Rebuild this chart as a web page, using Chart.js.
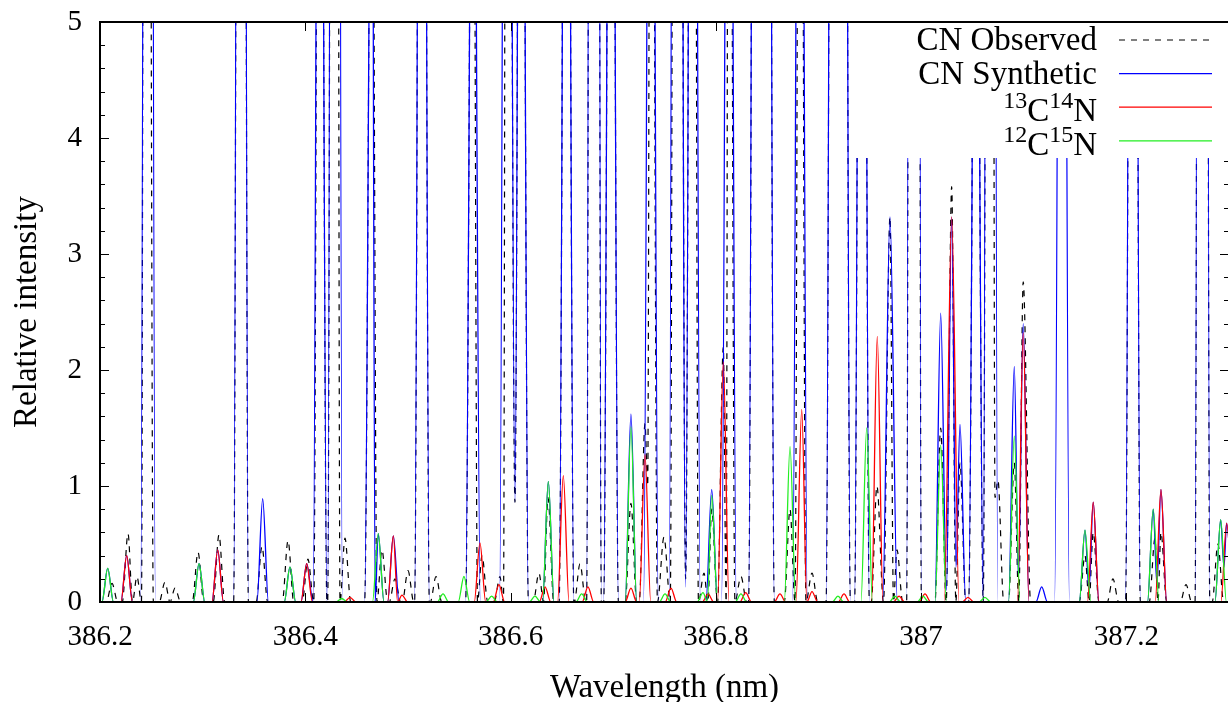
<!DOCTYPE html>
<html>
<head>
<meta charset="utf-8">
<script src="https://cdn.jsdelivr.net/npm/chart.js@4.4.0/dist/chart.umd.min.js"></script>
<style>
  html, body { margin: 0; padding: 0; background: #fff; overflow: hidden; }
  #wrap { width: 1230px; height: 702px; }
</style>
</head>
<body>
<div id="wrap"><canvas id="spectrum" width="1230" height="702"></canvas></div>
<script>
// axis ranges and tick values
const xRange = [386.2, 387.3];
const yRange = [0, 5];
const xTicks = [386.2, 386.4, 386.6, 386.8, 387.0, 387.2];
const yTicks = [0, 1, 2, 3, 4, 5];

// CN observed: line centres (nm) and peak intensities, plus blend minima
const obsX = [386.2117, 386.2273, 386.2360, 386.2448, 386.2633, 386.2731, 386.2955, 386.3159,
  386.3374, 386.3578, 386.3832, 386.4026, 386.4139, 386.4290, 386.4387, 386.4650, 386.4747,
  386.4874, 386.5001, 386.5137, 386.5274, 386.5634, 386.5722, 386.5897, 386.5965, 386.6102,
  386.6277, 386.6365, 386.6545, 386.6677, 386.6813, 386.6979, 386.7173, 386.7310, 386.7368,
  386.7495, 386.7617, 386.7777, 386.7885, 386.7960, 386.8073, 386.8128, 386.8245, 386.8391,
  386.8498, 386.8723, 386.8820, 386.8937, 386.9146, 386.9239, 386.9424, 386.9570, 386.9697,
  386.9765, 386.9931, 387.0191, 387.0298, 387.0379, 387.0535, 387.0676, 387.0749, 387.0908,
  387.0995, 387.1597, 387.1677, 387.1869, 387.2064, 387.2279, 387.2337, 387.2581, 387.2741,
  387.2892];
const obsY = [0.16, 0.59, 0.22, 25, 0.17, 0.12, 0.43, 0.58,
  25, 0.48, 0.53, 0.37, 12, 30, 0.55, 8, 0.45,
  0.20, 0.27, 16, 0.22, 9, 0.40, 0.22, 16, 12,
  0.25, 0.90, 12, 0.33, 40, 12, 0.85, 1.54, 12,
  0.56, 25, 16, 0.25, 0.80, 2.2, 12, 0.22, 16,
  16, 0.80, 12, 0.25, 16, 16, 14, 1.0, 3.32,
  0.45, 50, 1.5, 3.58, 1.2, 8, 27, 1.05, 1.2,
  2.76, 0.40, 0.60, 0.20, 17, 0.55, 0.60, 0.15, 39,
  0.50];
const obsDipX = [386.6043, 386.7336, 386.7706, 386.8445, 386.9190, 387.0720];
const obsDipY = [0.86, 1.0, 0.20, 8, 6, 0.9];

// CN synthetic
const synX = [386.2075, 386.2260, 386.2468, 386.2965, 386.3147, 386.3374, 386.3585, 386.3851,
  386.4014, 386.4139, 386.4290, 386.4650, 386.4711, 386.4858, 386.5137, 386.5634, 386.5965,
  386.6102, 386.6368, 386.6545, 386.6813, 386.6979, 386.7173, 386.7368, 386.7617, 386.7777,
  386.7960, 386.8128, 386.8391, 386.8498, 386.8820, 386.9146, 386.9239, 386.9424, 386.9697,
  386.9931, 387.0191, 387.0298, 387.0379, 387.0535, 387.0676, 387.0908, 387.0995, 387.1175,
  387.1373, 387.1597, 387.1677, 387.2064, 387.2262, 387.2337, 387.2741, 387.2919, 387.2977];
const synY = [0.29, 0.40, 25, 0.33, 0.45, 25, 0.89, 0.30,
  0.33, 12, 30, 8, 0.59, 0.57, 16, 9, 16,
  12, 1.04, 12, 40, 12, 1.62, 12, 25, 16,
  0.97, 12, 16, 16, 12, 16, 16, 14, 3.32,
  50, 2.49, 3.32, 1.53, 8, 27, 2.03, 2.40, 0.13,
  14, 0.62, 0.86, 17, 0.80, 0.97, 39, 0.71, 0.68];
const synDipX = [386.6043, 386.7706, 386.8445, 386.9190, 387.0247, 387.0340, 387.0949,
  387.1636, 387.2298, 387.2951];
const synDipY = [0.86, 0.13, 8, 6, 0.10, 0.30, 0.20, 0.10, 0.15, 0.30];

// 13C14N
const c13X = [386.2260, 386.3147, 386.4014, 386.4436, 386.4858, 386.4942, 386.5702, 386.5887,
  386.6336, 386.6514, 386.6754, 386.7173, 386.7310, 386.7563, 386.7924, 386.8073, 386.8291,
  386.8625, 386.8837, 386.8937, 386.9249, 386.9573, 386.9785, 387.0038, 387.0298, 387.0457,
  387.0995, 387.1677, 387.2337, 387.2977];
const c13Y = [0.40, 0.45, 0.33, 0.04, 0.57, 0.06, 0.51, 0.15,
  0.13, 1.09, 0.13, 0.12, 1.27, 0.12, 0.07, 2.07, 0.08,
  0.07, 1.66, 0.09, 0.07, 2.29, 0.05, 0.07, 3.32, 0.04,
  2.32, 0.86, 0.97, 0.68];

// 12C15N
const n15X = [386.2075, 386.2965, 386.3851, 386.4355, 386.4711, 386.5342, 386.5546, 386.5816,
  386.6238, 386.6368, 386.6693, 386.7173, 386.7505, 386.7875, 386.7960, 386.8245, 386.8723,
  386.9190, 386.9470, 386.9745, 387.0018, 387.0191, 387.0622, 387.0908, 387.1597, 387.2262,
  387.2919];
const n15Y = [0.29, 0.33, 0.30, 0.03, 0.59, 0.07, 0.22, 0.05,
  0.05, 1.04, 0.07, 1.51, 0.07, 0.08, 0.92, 0.07, 1.34,
  0.05, 1.50, 0.05, 0.05, 1.35, 0.04, 1.43, 0.62, 0.80,
  0.71];

// foot half-width of a line (nm): strong lines have wider wings
function halfWidth(v) { return v >= 2.5 ? 0.0072 : 0.0056; }

// turn a line list into profile points: peaks, listed minima, zero baseline between lines
function buildProfile(px, py, dx = [], dy = []) {
  const items = px.map((x, i) => ({ x, y: py[i], peak: true }))
    .concat(dx.map((x, i) => ({ x, y: dy[i], peak: false })))
    .sort((a, b) => a.x - b.x);
  const pts = [{ x: xRange[0], y: 0 }];
  const push = (x, y) => { if (x > pts[pts.length - 1].x + 1e-7) pts.push({ x, y }); };
  let prev = { x: xRange[0], y: 0, peak: true, w: 0 };
  items.forEach(it => {
    const w = it.peak ? halfWidth(it.y) : 0;
    if (prev.peak && it.peak) {
      if (it.x - prev.x >= prev.w + w) {
        if (prev.w) push(prev.x + prev.w, 0);
        push(it.x - w, 0);
      } else {
        push((prev.x + it.x) / 2, 0);
      }
    }
    push(it.x, it.y);
    prev = { x: it.x, y: it.y, peak: it.peak, w };
  });
  if (prev.w) push(prev.x + prev.w, 0);
  push(xRange[1], 0);
  return pts;
}

const serif = "'Liberation Serif', 'Times New Roman', serif";

// tics on all four sides pointing inward, opaque key box, frame
const framePlugin = {
  id: 'frame',
  afterDatasetsDraw(chart) {
    const { ctx, chartArea: a, scales: { x, y } } = chart;
    ctx.save();
    ctx.strokeStyle = '#000';
    ctx.lineWidth = 1;
    ctx.beginPath();
    for (let i = 0; i < yTicks.length; i++) {
      const py = Math.round(y.getPixelForValue(yTicks[i])) + 0.5;
      ctx.moveTo(a.left, py); ctx.lineTo(a.left + 9, py);
      ctx.moveTo(a.right, py); ctx.lineTo(a.right - 9, py);
      if (i < yTicks.length - 1) {
        for (let k = 1; k < 5; k++) {
          const v = yTicks[i] + (yTicks[i + 1] - yTicks[i]) * k / 5;
          const pm = Math.round(y.getPixelForValue(v)) + 0.5;
          ctx.moveTo(a.left, pm); ctx.lineTo(a.left + 5, pm);
          ctx.moveTo(a.right, pm); ctx.lineTo(a.right - 5, pm);
        }
      }
    }
    xTicks.forEach(v => {
      const pxv = Math.round(x.getPixelForValue(v)) + 0.5;
      ctx.moveTo(pxv, a.bottom); ctx.lineTo(pxv, a.bottom - 9);
      ctx.moveTo(pxv, a.top); ctx.lineTo(pxv, a.top + 9);
    });
    ctx.stroke();

    // key
    ctx.fillStyle = '#fff';
    ctx.fillRect(851, a.top, a.right - 851, 136);
    chart.data.datasets.forEach((d, i) => {
      const ly = a.top + 18 + i * 33.6;
      ctx.save();
      ctx.strokeStyle = d.borderColor;
      ctx.lineWidth = d.borderWidth;
      ctx.setLineDash(d.borderDash || []);
      ctx.beginPath();
      ctx.moveTo(1119, ly); ctx.lineTo(1212, ly);
      ctx.stroke();
      ctx.restore();
      drawRich(ctx, d.label, 1097, ly + (d.label.includes('^') ? 14 : 10));
    });

    ctx.lineWidth = 2;
    ctx.strokeRect(a.left, a.top, a.right - a.left, a.bottom - a.top);
    ctx.restore();
  }
};

// right-aligned text with ^{..} superscripts
function drawRich(ctx, text, right, base) {
  const parts = [];
  const re = /\^\{([^}]*)\}|([^^]+)/g;
  let m;
  while ((m = re.exec(text))) parts.push(m[1] !== undefined ? { t: m[1], sup: true } : { t: m[2], sup: false });
  const big = '33px ' + serif, small = '24px ' + serif;
  let total = 0;
  parts.forEach(p => { ctx.font = p.sup ? small : big; p.w = ctx.measureText(p.t).width; total += p.w; });
  let cx = right - total;
  ctx.fillStyle = '#000';
  ctx.textAlign = 'left';
  ctx.textBaseline = 'alphabetic';
  parts.forEach(p => {
    ctx.font = p.sup ? small : big;
    ctx.fillText(p.t, cx, p.sup ? base - 13 : base);
    cx += p.w;
  });
}

const lineStyle = { pointRadius: 0, fill: false, cubicInterpolationMode: 'monotone', borderJoinStyle: 'round' };

new Chart(document.getElementById('spectrum'), {
  type: 'line',
  data: {
    datasets: [
      { ...lineStyle, label: 'CN Observed', data: buildProfile(obsX, obsY, obsDipX, obsDipY),
        borderColor: '#000000', borderWidth: 1.2, borderDash: [6, 6], order: 4 },
      { ...lineStyle, label: 'CN Synthetic', data: buildProfile(synX, synY, synDipX, synDipY),
        borderColor: '#0000ff', borderWidth: 1.3, order: 3 },
      { ...lineStyle, label: '^{13}C^{14}N', data: buildProfile(c13X, c13Y),
        borderColor: '#ff0000', borderWidth: 1.3, order: 2 },
      { ...lineStyle, label: '^{12}C^{15}N', data: buildProfile(n15X, n15Y),
        borderColor: '#22ee22', borderWidth: 1.3, order: 1 }
    ]
  },
  options: {
    responsive: false,
    animation: false,
    devicePixelRatio: 1,
    layout: { padding: { top: 22, right: 1, left: 0, bottom: 0 } },
    plugins: { legend: { display: false }, tooltip: { enabled: false } },
    scales: {
      x: {
        type: 'linear', min: xRange[0], max: xRange[1],
        afterFit: s => { s.height = 100; s.paddingLeft = 0; s.paddingRight = 0; },
        afterBuildTicks: s => { s.ticks = xTicks.map(v => ({ value: v })); },
        grid: { display: false, drawTicks: false },
        border: { display: false },
        ticks: { color: '#000', font: { family: serif, size: 29 }, padding: 18, maxRotation: 0,
          callback: v => String(+v.toFixed(1)) },
        title: { display: true, text: 'Wavelength (nm)', color: '#000',
          font: { family: serif, size: 33, lineHeight: 0.8 }, padding: { top: 0, bottom: 0 } }
      },
      y: {
        type: 'linear', min: yRange[0], max: yRange[1],
        afterFit: s => { s.width = 100; s.paddingTop = 0; s.paddingBottom = 0; },
        afterBuildTicks: s => { s.ticks = yTicks.map(v => ({ value: v })); },
        grid: { display: false, drawTicks: false },
        border: { display: false },
        ticks: { color: '#000', font: { family: serif, size: 29 }, padding: 18 },
        title: { display: true, text: 'Relative intensity', color: '#000',
          font: { family: serif, size: 33 }, padding: { top: 8, bottom: 0 } }
      }
    }
  },
  plugins: [framePlugin]
});
</script>
</body>
</html>
